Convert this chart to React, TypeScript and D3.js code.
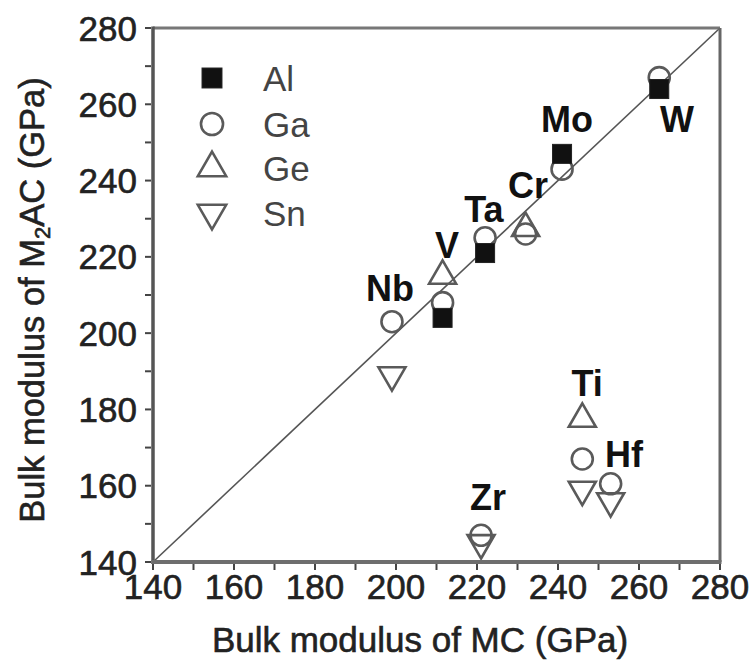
import React from 'react';
import * as d3 from 'd3';

// Data
const compounds = ['Nb', 'V', 'Ta', 'Cr', 'Mo', 'W', 'Ti', 'Hf', 'Zr'];
const mcBulk = [199, 211.5, 222, 232, 241, 265, 246, 253, 221];
const alValues: (number | null)[] = [null, 204, 221, null, 247, 264, null, null, null];
const gaValues: (number | null)[] = [203, 208, 225, 226, 243, 267, 167, 160.5, 147];
const geValues: (number | null)[] = [null, 215, null, 227.5, null, null, 177.5, null, null];
const snValues: (number | null)[] = [189, null, null, null, null, null, 159, 156, 145];
const labelX = [198.5, 212.6, 221.7, 232.6, 242.2, 269.4, 247.2, 256.3, 222.7];
const labelY = [211.6, 223.1, 232.3, 238.6, 255.9, 256.1, 186.7, 168.3, 156.8];
const seriesNames = ['Al', 'Ga', 'Ge', 'Sn'];
const tickValues = [140, 160, 180, 200, 220, 240, 260, 280];
const minorTicks = [150, 170, 190, 210, 230, 250, 270];

const W = 753;
const H = 667;
const L = 153, R = 720, T = 28, B = 562;
const FONT = '"Liberation Sans", Arial, sans-serif';

function Marker({ kind, x, y, s = 1 }: { kind: string; x: number; y: number; s?: number }) {
  const stroke = '#5a5a5a';
  const sw = 2.6;
  if (kind === 'Al') {
    const a = 19 * s;
    return <rect x={x - a / 2} y={y - a / 2} width={a} height={a} fill="#111" stroke="#222" strokeWidth={1} />;
  }
  if (kind === 'Ga') {
    return <circle cx={x} cy={y} r={10.5 * s} fill="none" stroke={stroke} strokeWidth={sw} />;
  }
  const side = 27 * s;
  const h = side * Math.sqrt(3) / 2;
  const path = d3.path();
  if (kind === 'Ge') {
    path.moveTo(x, y - (2 * h) / 3);
    path.lineTo(x + side / 2, y + h / 3);
    path.lineTo(x - side / 2, y + h / 3);
  } else {
    path.moveTo(x, y + (2 * h) / 3);
    path.lineTo(x + side / 2, y - h / 3);
    path.lineTo(x - side / 2, y - h / 3);
  }
  path.closePath();
  return <path d={path.toString()} fill="none" stroke={stroke} strokeWidth={sw} strokeLinejoin="miter" />;
}

export default function App() {
  const x = d3.scaleLinear().domain([140, 280]).range([L, R]);
  const y = d3.scaleLinear().domain([140, 280]).range([B, T]);

  const series: { name: string; vals: (number | null)[] }[] = [
    { name: 'Ga', vals: gaValues },
    { name: 'Ge', vals: geValues },
    { name: 'Sn', vals: snValues },
    { name: 'Al', vals: alValues },
  ];

  const diag = d3.line<number>().x((d) => x(d)).y((d) => y(d))([140, 280]) || '';
  const legendY = [78, 124, 168, 213];

  return (
    <svg width={W} height={H} style={{ position: 'absolute', left: 0, top: 0, background: '#fff' }} fontFamily={FONT}>
      <rect width={W} height={H} fill="#fff" />
      {/* diagonal */}
      <path d={diag} stroke="#555" strokeWidth={1.6} fill="none" />

      {/* markers */}
      {series.map((s) =>
        s.vals.map((v, i) =>
          v == null ? null : <Marker key={s.name + i} kind={s.name} x={x(mcBulk[i])} y={y(v)} />
        )
      )}

      {/* compound labels */}
      {compounds.map((c, i) => (
        <text key={c} x={x(labelX[i])} y={y(labelY[i])} textAnchor="middle" dominantBaseline="central"
          fontSize={36} fontWeight="bold" fill="#111">{c}</text>
      ))}

      {/* legend */}
      {seriesNames.map((n, i) => (
        <g key={n}>
          <Marker kind={n} x={212} y={legendY[i]} s={1.05} />
          <text x={263} y={legendY[i]} dominantBaseline="central" fontSize={35} fill="#444">{n}</text>
        </g>
      ))}

      {/* frame */}
      <line x1={L} x2={R} y1={T} y2={T} stroke="#777" strokeWidth={3} />
      <line x1={R} x2={R} y1={T} y2={B} stroke="#666" strokeWidth={3} />
      <line x1={L} x2={L} y1={T - 1.5} y2={B + 2} stroke="#555" strokeWidth={3.5} />
      <line x1={L - 1.5} x2={R + 1.5} y1={B} y2={B} stroke="#6e6e6e" strokeWidth={4} />

      {/* ticks */}
      {[...tickValues, ...minorTicks].map((t) => (
        <g key={'t' + t}>
          <line x1={x(t)} x2={x(t)} y1={B + 2} y2={B + 8} stroke="#444" strokeWidth={2} />
          <line x1={L - 2} x2={L - 8} y1={y(t)} y2={y(t)} stroke="#444" strokeWidth={2} />
        </g>
      ))}
      {tickValues.map((t) => (
        <g key={'l' + t}>
          <text x={x(t)} y={B + 37} textAnchor="middle" fontSize={35} fill="#222" stroke="#222" strokeWidth={0.6}>{t}</text>
          <text x={L - 16} y={y(t)} textAnchor="end" dominantBaseline="central" fontSize={35} fill="#222" stroke="#222" strokeWidth={0.6}>{t}</text>
        </g>
      ))}

      {/* axis titles */}
      <text x={420} y={652} textAnchor="middle" fontSize={35} fill="#222" stroke="#222" strokeWidth={0.6}>Bulk modulus of MC (GPa)</text>
      <text transform={`translate(44, ${300}) rotate(-90)`} textAnchor="middle" fontSize={34.5} fill="#222" stroke="#222" strokeWidth={0.6}>
        Bulk modulus of M<tspan fontSize={22} dy={6}>2</tspan><tspan dy={-6}>AC (GPa)</tspan>
      </text>
    </svg>
  );
}
